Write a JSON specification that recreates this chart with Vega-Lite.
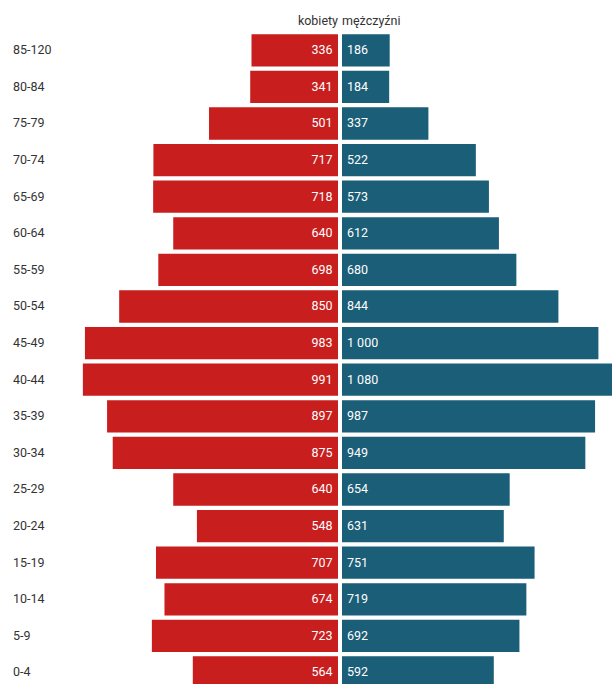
{
  "$schema": "https://vega.github.io/schema/vega-lite/v6.json",
  "padding": {"left": 12, "top": 15, "right": 0, "bottom": 0},
  "background": "white",
  "bounds": "flush",
  "spacing": 4,
  "config": {
    "view": {"stroke": null},
    "font": "Roboto",
    "locale": {"number": {"decimal": ",", "thousands": " ", "grouping": [3], "currency": ["", " zł"]}},
    "title": {"fontSize": 12.5, "fontWeight": "normal", "color": "#333333", "font": "Roboto", "offset": 4}
  },
  "data": {
    "values": [
      {"wiek": "85-120", "kobiety": 336, "mezczyzni": 186},
      {"wiek": "80-84", "kobiety": 341, "mezczyzni": 184},
      {"wiek": "75-79", "kobiety": 501, "mezczyzni": 337},
      {"wiek": "70-74", "kobiety": 717, "mezczyzni": 522},
      {"wiek": "65-69", "kobiety": 718, "mezczyzni": 573},
      {"wiek": "60-64", "kobiety": 640, "mezczyzni": 612},
      {"wiek": "55-59", "kobiety": 698, "mezczyzni": 680},
      {"wiek": "50-54", "kobiety": 850, "mezczyzni": 844},
      {"wiek": "45-49", "kobiety": 983, "mezczyzni": 1000},
      {"wiek": "40-44", "kobiety": 991, "mezczyzni": 1080},
      {"wiek": "35-39", "kobiety": 897, "mezczyzni": 987},
      {"wiek": "30-34", "kobiety": 875, "mezczyzni": 949},
      {"wiek": "25-29", "kobiety": 640, "mezczyzni": 654},
      {"wiek": "20-24", "kobiety": 548, "mezczyzni": 631},
      {"wiek": "15-19", "kobiety": 707, "mezczyzni": 751},
      {"wiek": "10-14", "kobiety": 674, "mezczyzni": 719},
      {"wiek": "5-9", "kobiety": 723, "mezczyzni": 692},
      {"wiek": "0-4", "kobiety": 564, "mezczyzni": 592}
    ]
  },
  "hconcat": [
    {
      "width": 268,
      "height": 658.8,
      "title": {"text": "kobiety", "anchor": "end"},
      "encoding": {
        "y": {
          "field": "wiek", "type": "nominal", "sort": null,
          "scale": {"paddingInner": 0.118, "paddingOuter": 0.059},
          "axis": {"title": null, "domain": false, "ticks": false, "labelAlign": "left", "labelPadding": 57.5, "labelFontSize": 12.5, "labelColor": "#333333", "labelFont": "Roboto"}
        }
      },
      "layer": [
        {
          "mark": {"type": "bar", "color": "#c81e1e"},
          "encoding": {
            "x": {"field": "kobiety", "type": "quantitative", "scale": {"domain": [0, 1041], "reverse": true, "nice": false}, "axis": null}
          }
        },
        {
          "mark": {"type": "text", "align": "right", "dx": -5.5, "color": "white", "fontSize": 12.5, "font": "Roboto", "baseline": "middle"},
          "encoding": {
            "x": {"datum": 0, "type": "quantitative"},
            "text": {"field": "kobiety", "type": "quantitative", "format": ",d"}
          }
        }
      ]
    },
    {
      "width": 270,
      "height": 658.8,
      "title": {"text": "mężczyźni", "anchor": "start"},
      "encoding": {
        "y": {
          "field": "wiek", "type": "nominal", "sort": null,
          "scale": {"paddingInner": 0.118, "paddingOuter": 0.059},
          "axis": null
        }
      },
      "layer": [
        {
          "mark": {"type": "bar", "color": "#1b5e78", "clip": true},
          "encoding": {
            "x": {"field": "mezczyzni", "type": "quantitative", "scale": {"domain": [0, 1053], "nice": false}, "axis": null}
          }
        },
        {
          "mark": {"type": "text", "align": "left", "dx": 5, "color": "white", "fontSize": 12.5, "font": "Roboto", "baseline": "middle"},
          "encoding": {
            "x": {"datum": 0, "type": "quantitative"},
            "text": {"field": "mezczyzni", "type": "quantitative", "format": ",d"}
          }
        }
      ]
    }
  ]
}
